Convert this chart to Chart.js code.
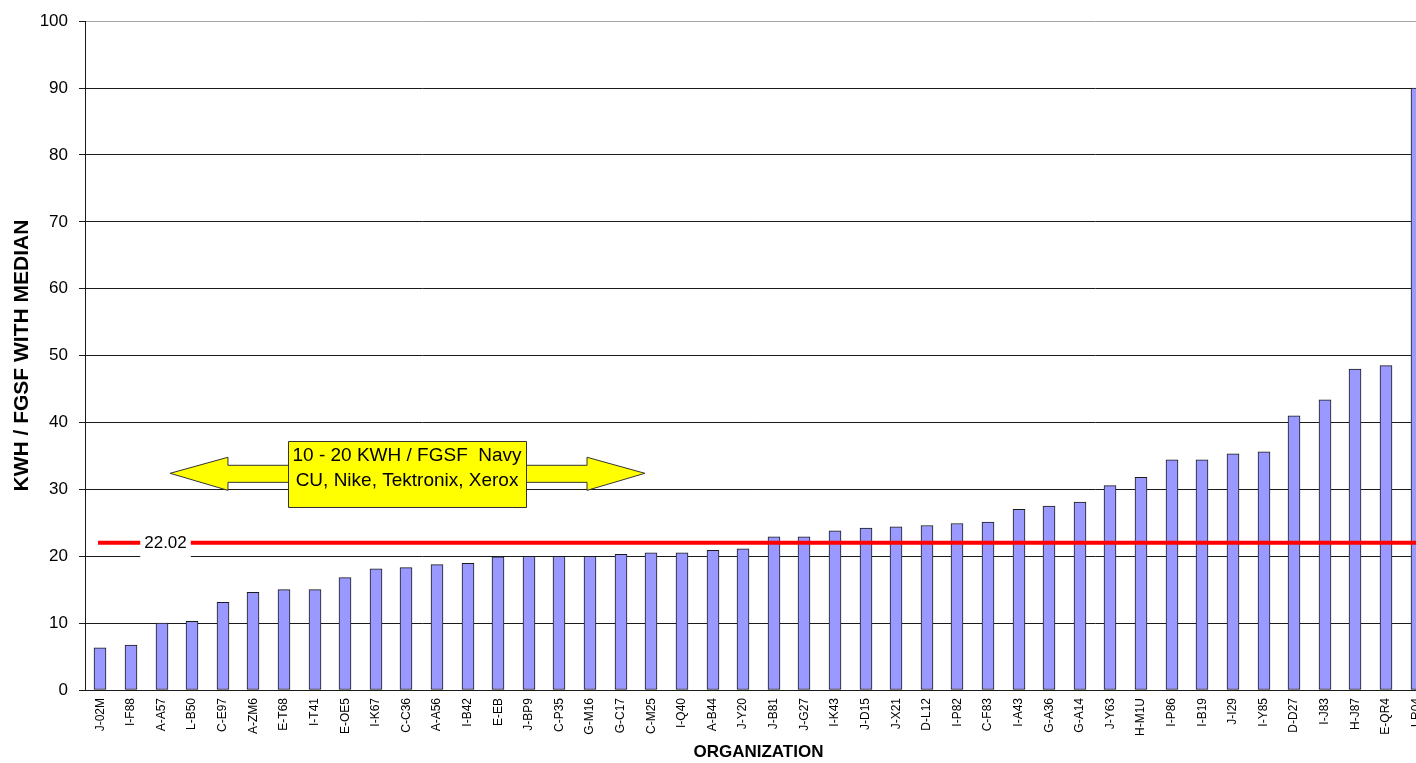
<!DOCTYPE html>
<html>
<head>
<meta charset="utf-8">
<script src="https://cdn.jsdelivr.net/npm/chart.js@4/dist/chart.umd.min.js"></script>
<style>
  html, body { margin: 0; padding: 0; background: #ffffff; overflow: hidden; }
  canvas { display: block; }
</style>
</head>
<body>
<canvas id="chart" width="1439" height="763"></canvas>
<script>
// Energy intensity per organization, sorted ascending
const organizations = [
  'J-02M', 'I-F88', 'A-A57', 'L-B50', 'C-E97', 'A-ZM6', 'E-T68', 'I-T41', 'E-OE5', 'I-K67',
  'C-C36', 'A-A56', 'I-B42', 'E-EB', 'J-BP9', 'C-P35', 'G-M16', 'G-C17', 'C-M25', 'I-Q40',
  'A-B44', 'J-Y20', 'J-B81', 'J-G27', 'I-K43', 'J-D15', 'J-X21', 'D-L12', 'I-P82', 'C-F83',
  'I-A43', 'G-A36', 'G-A14', 'J-Y63', 'H-M1U', 'I-P86', 'I-B19', 'J-I29', 'I-Y85', 'D-D27',
  'I-J83', 'H-J87', 'E-QR4', 'I-R04'
];
const kwhPerFgsf = [
  6.3, 6.7, 10.0, 10.25, 13.1, 14.6, 15.0, 15.0, 16.8, 18.1,
  18.3, 18.75, 18.95, 19.9, 20.0, 20.0, 20.0, 20.3, 20.5, 20.5,
  20.9, 21.1, 22.9, 22.9, 23.8, 24.2, 24.4, 24.6, 24.9, 25.1,
  27.0, 27.5, 28.1, 30.55, 31.8, 34.4, 34.4, 35.3, 35.6, 41.0,
  43.4, 48.0, 48.5, 90.0
];
const medianValue = 22.02;
const yTickValues = [0, 10, 20, 30, 40, 50, 60, 70, 80, 90, 100];
const calloutLines = ['10 - 20 KWH / FGSF  Navy', 'CU, Nike, Tektronix, Xerox'];

const FONT = '"Liberation Sans", Arial, sans-serif';

// Snap bar centres to whole pixels so the 1px outlines stay crisp
const crispBars = {
  id: 'crispBars',
  beforeDatasetsDraw(chart) {
    chart.getDatasetMeta(0).data.forEach(bar => { bar.x = Math.round(bar.x); });
  }
};

// Red median line with its value label
const medianPlugin = {
  id: 'medianLine',
  afterDatasetsDraw(chart) {
    const { ctx, chartArea, scales: { x, y } } = chart;
    const py = y.getPixelForValue(medianValue);
    const x0 = x.getPixelForValue(-0.075);
    ctx.save();
    ctx.strokeStyle = '#ff0000';
    ctx.lineWidth = 4;
    ctx.beginPath();
    ctx.moveTo(x0, py);
    ctx.lineTo(chartArea.right, py);
    ctx.stroke();

    const text = medianValue.toFixed(2);
    ctx.font = '17px ' + FONT;
    const tw = ctx.measureText(text).width;
    const cx = x.getPixelForValue(2.13);
    const bw = tw + 8, bh = 33;
    ctx.fillStyle = '#ffffff';
    ctx.fillRect(cx - bw / 2, py - bh / 2, bw, bh);
    ctx.fillStyle = '#000000';
    ctx.textAlign = 'center';
    ctx.textBaseline = 'middle';
    ctx.fillText(text, cx, py + 1);
    ctx.restore();
  }
};

// Yellow double-headed arrow callout
const calloutPlugin = {
  id: 'callout',
  afterDatasetsDraw(chart) {
    const { ctx, scales: { x, y } } = chart;
    const tipL = x.getPixelForValue(2.28), baseL = x.getPixelForValue(4.17);
    const boxL = x.getPixelForValue(6.13), boxR = x.getPixelForValue(13.91);
    const baseR = x.getPixelForValue(15.9), tipR = x.getPixelForValue(17.79);
    const mid = y.getPixelForValue(32.4);
    const headT = y.getPixelForValue(34.8), headB = y.getPixelForValue(29.85);
    const shaftT = y.getPixelForValue(33.6), shaftB = y.getPixelForValue(31.05);
    const boxT = y.getPixelForValue(37.16), boxB = y.getPixelForValue(27.3);

    ctx.save();
    ctx.fillStyle = '#ffff00';
    ctx.strokeStyle = '#333333';
    ctx.lineWidth = 1;
    ctx.beginPath();
    ctx.moveTo(tipL, mid);
    ctx.lineTo(baseL, headT);
    ctx.lineTo(baseL, shaftT);
    ctx.lineTo(baseR, shaftT);
    ctx.lineTo(baseR, headT);
    ctx.lineTo(tipR, mid);
    ctx.lineTo(baseR, headB);
    ctx.lineTo(baseR, shaftB);
    ctx.lineTo(baseL, shaftB);
    ctx.lineTo(baseL, headB);
    ctx.closePath();
    ctx.fill();
    ctx.stroke();

    ctx.beginPath();
    ctx.rect(Math.round(boxL) + 0.5, Math.round(boxT) + 0.5, Math.round(boxR - boxL), Math.round(boxB - boxT));
    ctx.fill();
    ctx.stroke();

    ctx.fillStyle = '#000000';
    ctx.font = '19px ' + FONT;
    ctx.textAlign = 'center';
    ctx.textBaseline = 'alphabetic';
    const cx = (boxL + boxR) / 2;
    ctx.fillText(calloutLines[0], cx, boxT + 20);
    ctx.fillText(calloutLines[1], cx, boxT + 45);
    ctx.restore();
  }
};

new Chart(document.getElementById('chart'), {
  type: 'bar',
  data: {
    labels: organizations,
    datasets: [{
      data: kwhPerFgsf,
      backgroundColor: '#9999ff',
      borderColor: '#1a1a1a',
      borderWidth: 1,
      borderSkipped: false,
      barThickness: 12
    }]
  },
  options: {
    responsive: false,
    animation: false,
    layout: { padding: { top: 20, right: 0, bottom: 0, left: 0 } },
    plugins: {
      legend: { display: false },
      tooltip: { enabled: false }
    },
    scales: {
      x: {
        grid: { display: false, drawTicks: false },
        border: { display: true, color: '#1a1a1a', width: 1 },
        ticks: {
          autoSkip: false,
          minRotation: 90,
          maxRotation: 90,
          padding: 8,
          color: '#000000',
          font: { family: FONT, size: 12 }
        },
        title: {
          display: true,
          text: 'ORGANIZATION',
          color: '#000000',
          font: { family: FONT, size: 17, weight: 'bold' },
          padding: { top: 0, bottom: 0 }
        },
        afterFit: s => { s.height = 73; }
      },
      y: {
        min: 0,
        max: 100,
        afterBuildTicks: s => { s.ticks = yTickValues.map(v => ({ value: v })); },
        grid: {
          color: c => (c.tick && c.tick.value === 100 ? '#a6a6a6' : '#1a1a1a'),
          tickColor: '#1a1a1a',
          tickLength: 6,
          lineWidth: 1
        },
        border: { display: true, color: '#1a1a1a', width: 1 },
        ticks: {
          padding: 11,
          color: '#000000',
          font: { family: FONT, size: 17 }
        },
        title: {
          display: true,
          text: 'KWH / FGSF WITH MEDIAN',
          color: '#000000',
          font: { family: FONT, size: 21, weight: 'bold' },
          padding: { top: 10, bottom: 0 }
        },
        afterFit: s => { s.width = 85; }
      }
    }
  },
  plugins: [crispBars, medianPlugin, calloutPlugin]
});
</script>
</body>
</html>
